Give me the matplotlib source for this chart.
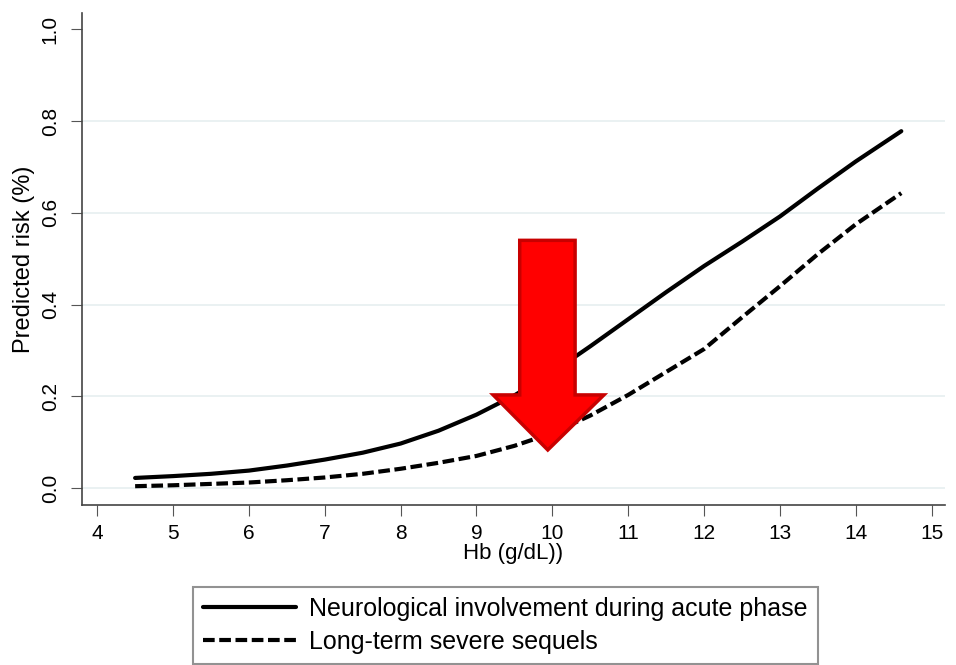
import numpy as np
import matplotlib.pyplot as plt
from matplotlib.patches import Polygon

plt.rcParams['font.family'] = ['Liberation Sans', 'DejaVu Sans']

# values
hb = [4.5, 5, 5.5, 6, 6.5, 7, 7.5, 8, 8.5, 9, 9.5, 10, 10.5,
      11, 11.5, 12, 12.5, 13, 13.5, 14, 14.6]
neuro_acute = [0.022, 0.026, 0.031, 0.038, 0.049, 0.062, 0.077, 0.097, 0.125,
               0.160, 0.202, 0.252, 0.309, 0.368, 0.427, 0.484, 0.537, 0.592,
               0.653, 0.712, 0.778]
long_term = [0.004, 0.006, 0.009, 0.012, 0.017, 0.023, 0.031, 0.042, 0.055,
             0.070, 0.092, 0.120, 0.158, 0.203, 0.253, 0.303, 0.372, 0.440,
             0.510, 0.575, 0.643]

x_ticks = list(range(4, 16))
y_ticks = [0.0, 0.2, 0.4, 0.6, 0.8, 1.0]

# red arrow outline (data units)
arrow_x = [9.57, 10.30, 10.30, 10.68, 9.94, 9.22, 9.57]
arrow_y = [0.540, 0.540, 0.203, 0.203, 0.083, 0.203, 0.203]

fig = plt.figure(figsize=(9.56, 6.65), dpi=100)
ax = fig.add_axes([0.0858, 0.2406, 0.9022, 0.7394])

ax.plot(hb, neuro_acute, color='black', lw=3.0, solid_capstyle='round',
        solid_joinstyle='round',
        label='Neurological involvement during acute phase')
ax.plot(hb, long_term, color='black', lw=3.0, dashes=(2.8, 1.1),
        label='Long-term severe sequels')

for t in y_ticks[:-1]:
    ax.axhline(t, color='#e8f0f1', lw=1.3, zorder=0)

ax.add_patch(Polygon(list(zip(arrow_x, arrow_y)), closed=True,
                     facecolor='#ff0000', edgecolor='#c80000', lw=2.5, zorder=5))

ax.set_xlim(3.80, 15.17)
ax.set_ylim(-0.037, 1.035)
ax.set_xticks(x_ticks)
ax.set_yticks(y_ticks)
ax.set_yticklabels([f'{v:.1f}' for v in y_ticks], rotation=90, va='center')
ax.tick_params(axis='x', labelsize=15, length=8, color='#555555', pad=6)
ax.tick_params(axis='y', labelsize=15, length=8, color='#555555', pad=8)

for s in ['top', 'right']:
    ax.spines[s].set_visible(False)
for s in ['left', 'bottom']:
    ax.spines[s].set_color('#444444')
    ax.spines[s].set_linewidth(1.2)

ax.set_xlabel('Hb (g/dL))', fontsize=16, labelpad=0)
ax.set_ylabel('Predicted risk (%)', fontsize=17, labelpad=4)

leg = fig.legend(loc='upper left', bbox_to_anchor=(0.202, 0.117), ncol=1,
                 fontsize=18, frameon=True, fancybox=False, handlelength=3.7,
                 borderpad=0.4, borderaxespad=0, labelspacing=0.35,
                 handletextpad=0.55)
leg.get_frame().set_edgecolor('#777777')
leg.get_frame().set_linewidth(1.5)

fig.savefig('out.png', dpi=100)
